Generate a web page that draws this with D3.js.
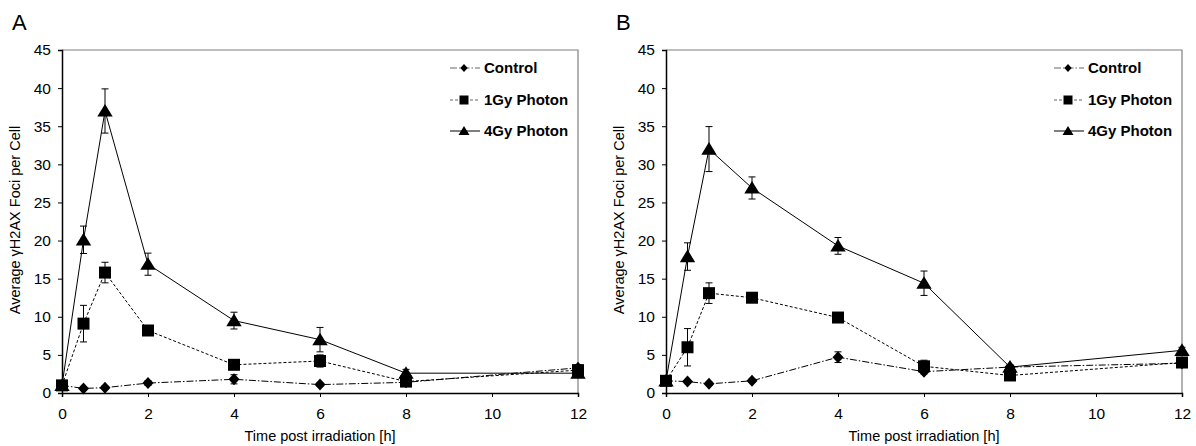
<!DOCTYPE html>
<html>
<head>
<meta charset="utf-8">
<script src="https://cdn.jsdelivr.net/npm/d3@7"></script>
<style>
  body { margin: 0; background: #fff; }
  svg text { font-family: "Liberation Sans", Arial, sans-serif; fill: #000; }
</style>
</head>
<body>
<svg id="chart" width="1196" height="446"></svg>
<script>
// time points (h)
var times = [0, 0.5, 1, 2, 4, 6, 8, 12];
var xTicks = [0, 2, 4, 6, 8, 10, 12];
var yTicks = [0, 5, 10, 15, 20, 25, 30, 35, 40, 45];
var seriesNames = ["Control", "1Gy Photon", "4Gy Photon"];

// panel A
var ctrlA = [1.0, 0.6, 0.7, 1.3, 1.8, 1.1, 1.4, 3.3];
var ctrlAErr = [0.2, 0.2, 0.2, 0.3, 0.6, 0.2, 0.2, 0.4];
var gy1A = [1.0, 9.1, 15.8, 8.2, 3.7, 4.2, 1.5, 3.0];
var gy1AErr = [0.2, 2.4, 1.35, 0.5, 0.3, 0.8, 0.3, 0.5];
var gy4A = [1.0, 20.1, 37.0, 16.9, 9.5, 7.0, 2.6, 2.6];
var gy4AErr = [0.2, 1.8, 2.9, 1.45, 1.1, 1.6, 0.5, 0.5];

// panel B
var ctrlB = [1.6, 1.5, 1.2, 1.6, 4.7, 2.8, 3.4, 3.9];
var ctrlBErr = [0.2, 0.2, 0.2, 0.2, 0.7, 0.3, 0.2, 0.3];
var gy1B = [1.6, 6.0, 13.1, 12.5, 9.9, 3.5, 2.3, 4.0];
var gy1BErr = [0.2, 2.45, 1.35, 0.5, 0.3, 0.8, 0.3, 0.3];
var gy4B = [1.6, 17.9, 32.0, 26.9, 19.3, 14.4, 3.4, 5.6];
var gy4BErr = [0.2, 1.8, 2.95, 1.45, 1.1, 1.6, 0.3, 0.4];

var svg = d3.select("#chart");

function markerPath(kind, s) {
  // s = half size
  if (kind == "diamond") return "M0," + (-s) + "L" + (s * 0.92) + ",0L0," + s + "L" + (-s * 0.92) + ",0Z";
  if (kind == "square") return "M" + (-s) + "," + (-s) + "H" + s + "V" + s + "H" + (-s) + "Z";
  return "M0," + (-s) + "L" + (s * 1.1) + "," + (s * 0.8) + "H" + (-s * 1.1) + "Z";
}

var styles = [
  {kind: "diamond", size: 6, dash: "7,2,1.5,2", legendSize: 4},
  {kind: "square", size: 6, dash: "3,2", legendSize: 4.5},
  {kind: "triangle", size: 7, dash: null, legendSize: 5}
];

function drawPanel(left, label, series, errs) {
  var top = 50, height = 343, width = 516;
  var x = d3.scaleLinear().domain([0, 12]).range([left, left + width]);
  var y = d3.scaleLinear().domain([0, 45]).range([top + height, top]);

  svg.append("text").attr("x", left - 50).attr("y", 30)
    .style("font-size", "22px").text(label);

  // gray frame top / right
  svg.append("path")
    .attr("d", "M" + left + "," + top + "H" + (left + width) + "V" + (top + height))
    .attr("fill", "none").attr("stroke", "#808080").attr("stroke-width", 1.2);

  var ya = svg.append("g").attr("transform", "translate(" + left + ",0)")
    .call(d3.axisLeft(y).tickValues(yTicks).tickSize(4).tickPadding(7));
  var xa = svg.append("g").attr("transform", "translate(0," + (top + height) + ")")
    .call(d3.axisBottom(x).tickValues(xTicks).tickSize(4).tickPadding(11));
  [ya, xa].forEach(function(a) {
    a.select(".domain").attr("stroke", "#000").attr("stroke-width", 1.5);
    a.selectAll(".tick line").attr("stroke", "#000");
    a.selectAll(".tick text").style("font-size", "15.5px").style("font-family", "Liberation Sans, Arial, sans-serif");
  });

  svg.append("text")
    .attr("transform", "translate(" + (left - 42) + "," + (top + 170) + ") rotate(-90)")
    .attr("text-anchor", "middle").style("font-size", "14.5px")
    .html("Average <tspan>&#947;</tspan>H2AX Foci per Cell");

  svg.append("text").attr("x", x(6)).attr("y", 441)
    .attr("text-anchor", "middle").style("font-size", "14.5px")
    .text("Time post irradiation [h]");

  var line = d3.line().x(function(d) { return x(d.t); }).y(function(d) { return y(d.v); });

  // draw 4Gy first, control last
  [2, 1, 0].forEach(function(i) {
    var st = styles[i];
    var pts = times.map(function(t, j) { return {t: t, v: series[i][j], e: errs[i][j]}; });
    var g = svg.append("g");
    g.append("path").datum(pts).attr("d", line)
      .attr("fill", "none").attr("stroke", "#000").attr("stroke-width", 1)
      .attr("stroke-dasharray", st.dash);
    g.selectAll(".eb").data(pts).enter().append("path")
      .attr("d", function(d) {
        var cx = x(d.t), y1 = y(d.v + d.e), y2 = y(d.v - d.e);
        return "M" + cx + "," + y1 + "V" + y2 + "M" + (cx - 3.5) + "," + y1 + "H" + (cx + 3.5) +
          "M" + (cx - 3.5) + "," + y2 + "H" + (cx + 3.5);
      })
      .attr("stroke", "#000").attr("stroke-width", 1).attr("fill", "none");
    g.selectAll(".mk").data(pts).enter().append("path")
      .attr("transform", function(d) { return "translate(" + x(d.t) + "," + y(d.v) + ")"; })
      .attr("d", markerPath(st.kind, st.size)).attr("fill", "#000");
  });

  // legend
  var lx = left + 388;
  var rows = [68, 100, 131];
  seriesNames.forEach(function(n, i) {
    var st = styles[i];
    svg.append("line").attr("x1", lx).attr("x2", lx + 30)
      .attr("y1", rows[i]).attr("y2", rows[i])
      .attr("stroke", i == 2 ? "#000" : "#666").attr("stroke-width", 1)
      .attr("stroke-dasharray", st.dash);
    svg.append("path").attr("transform", "translate(" + (lx + 14) + "," + rows[i] + ")")
      .attr("d", markerPath(st.kind, st.legendSize)).attr("fill", "#000");
    svg.append("text").attr("x", lx + 34).attr("y", rows[i] + 5)
      .style("font-size", "15px").style("font-weight", "bold").text(n);
  });
}

drawPanel(62, "A", [ctrlA, gy1A, gy4A], [ctrlAErr, gy1AErr, gy4AErr]);
drawPanel(666, "B", [ctrlB, gy1B, gy4B], [ctrlBErr, gy1BErr, gy4BErr]);
</script>
</body>
</html>
